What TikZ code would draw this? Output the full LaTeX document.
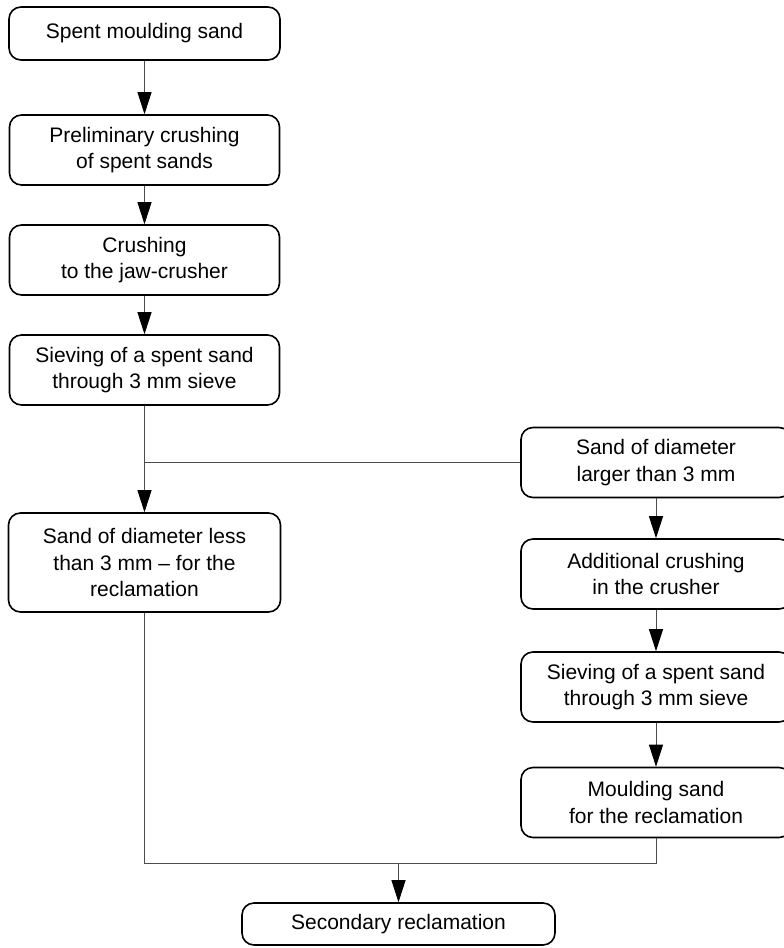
\documentclass[tikz,border=0pt]{standalone}
\usepackage{fontspec}
\setmainfont{Liberation Sans}
\usetikzlibrary{arrows.meta}

\tikzset{
	stage/.style={draw,line width=1.6pt,rounded corners=12pt,align=center,
		minimum width=270pt,minimum height=70pt,inner sep=0pt,
		font=\fontsize{21}{26.7}\selectfont},
	flow/.style={draw=black!70,line width=1pt},
	flowarrow/.style={flow,-{Triangle[length=22pt,width=14pt,fill=black,color=black]}}
}

\begin{document}
\begin{tikzpicture}[x=1pt,y=-1pt]
	\useasboundingbox (0,0) rectangle (784,948);
	
	%left column
	\node[stage,minimum width=271pt,minimum height=53pt] (spent) at (144.5,33.5) {Spent moulding sand};
	\node[stage] (precrush) at (144.5,150) {Preliminary crushing\\of spent sands};
	\node[stage] (jaw) at (144.5,260) {Crushing\\to the jaw-crusher};
	\node[stage] (sieve) at (144.5,370) {Sieving of a spent sand\\through 3 mm sieve};
	\node[stage,minimum width=272pt,minimum height=99pt] (fine) at (144.5,562.5) {Sand of diameter less\\than 3 mm -- for the\\reclamation};
	%right column
	\node[stage] (coarse) at (656,462.5) {Sand of diameter\\larger than 3 mm};
	\node[stage] (addcrush) at (656,574) {Additional crushing\\in the crusher};
	\node[stage] (resieve) at (656,687) {Sieving of a spent sand\\through 3 mm sieve};
	\node[stage] (mould) at (656,802.5) {Moulding sand\\for the reclamation};
	%end
	\node[stage,minimum width=313pt,minimum height=42pt] (second) at (398.5,924) {Secondary reclamation};
	
	%arrows
	\draw[flowarrow] (spent) -- (precrush);
	\draw[flowarrow] (precrush) -- (jaw);
	\draw[flowarrow] (jaw) -- (sieve);
	\draw[flowarrow] (sieve) -- (fine);
	\coordinate (split) at (sieve.south |- coarse.west);
	\draw[flow] (split) -- (coarse.west);
	\draw[flowarrow] (coarse) -- (addcrush);
	\draw[flowarrow] (addcrush) -- (resieve);
	\draw[flowarrow] (resieve) -- (mould);
	\coordinate (join) at (398.5,863);
	\draw[flow] (fine.south) |- (join) -| (mould.south);
	\draw[flowarrow] (join) -- (second);
\end{tikzpicture}
\end{document}
